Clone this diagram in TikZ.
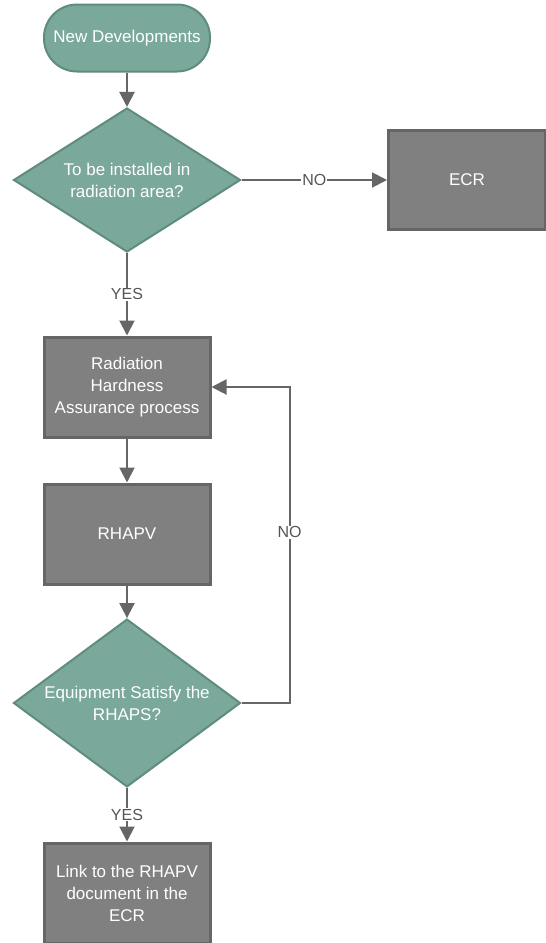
\documentclass[tikz,border=0pt]{standalone}
\usepackage{fontspec}
\setmainfont{Liberation Sans}
\usetikzlibrary{arrows.meta}
\usetikzlibrary{shapes.geometric}

\definecolor{tealfill}{HTML}{7AA89B}
\definecolor{tealline}{HTML}{5F8C7E}
\definecolor{boxfill}{HTML}{808080}
\definecolor{boxline}{HTML}{666666}
\definecolor{arrowline}{HTML}{666666}
\definecolor{labeltext}{HTML}{555555}

\begin{document}
\begin{tikzpicture}[x = 1pt, y = 1pt, >={Triangle[length = 15pt, width = 15pt]}, line width = 2pt,
						font = \fontsize{17}{22}\selectfont,
						start node/.style = {rectangle, rounded corners = 33pt, draw = tealline, fill = tealfill, text = white, minimum width = 166pt, minimum height = 67pt, line width = 2pt},
						decision node/.style = {diamond, draw = tealline, fill = tealfill, text = white, align = center, inner sep = -8pt, minimum width = 227pt, minimum height = 144pt, line width = 2pt},
						proc node/.style = {rectangle, draw = boxline, fill = boxfill, text = white, align = center, minimum width = 166pt, minimum height = 100pt, line width = 3pt},
						flow/.style = {->, draw = arrowline, line width = 2pt},
						answer/.style = {fill = white, text = labeltext, inner sep = 1pt, font = \fontsize{16}{18}\selectfont}]
		\useasboundingbox (0,0) rectangle (546,-943);

		\node[start node] (start) at (127,-38) {New Developments};
		\node[decision node, node distance = 142pt] (radarea) [below of = start] {To be installed in\\radiation area?};
		\node[proc node, node distance = 340pt, minimum width = 157pt, minimum height = 99pt] (ecr) [right of = radarea] {ECR};
		\node[proc node, node distance = 207pt] (rha) [below of = radarea] {Radiation\\Hardness\\Assurance process};
		\node[proc node, node distance = 147pt] (rhapv) [below of = rha] {RHAPV};
		\node[decision node, node distance = 169pt] (satisfy) [below of = rhapv] {Equipment Satisfy the\\RHAPS?};
		\node[proc node, node distance = 190pt] (link) [below of = satisfy] {Link to the RHAPV\\document in the\\ECR};

		\path
		(start) edge[flow] (radarea)
		(radarea.east) edge[flow] node [answer] {NO} (ecr.west)
		(radarea) edge[flow] node [answer] {YES} (rha)
		(rha) edge[flow] (rhapv)
		(rhapv) edge[flow] (satisfy)
		(satisfy) edge[flow] node [answer] {YES} (link);

		\draw[flow] (satisfy.east) -- ++(48,0) |- node [answer, pos = 0.27] {NO} (rha.east);

	\end{tikzpicture}
\end{document}
